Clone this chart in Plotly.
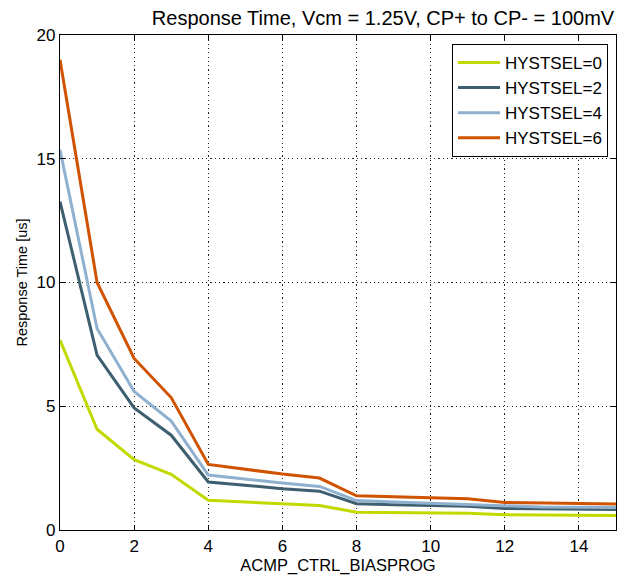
import plotly.graph_objects as go

x_vals = list(range(16))
hyst0 = [7.67, 4.07, 2.84, 2.25, 1.20, 1.13, 1.06, 0.99, 0.72, 0.71, 0.70, 0.68, 0.62, 0.61, 0.60, 0.59]
hyst2 = [13.27, 7.07, 4.93, 3.83, 1.94, 1.80, 1.67, 1.57, 1.06, 1.02, 0.99, 0.96, 0.87, 0.86, 0.84, 0.83]
hyst4 = [15.36, 8.14, 5.60, 4.40, 2.22, 2.05, 1.90, 1.76, 1.19, 1.13, 1.08, 1.03, 0.95, 0.93, 0.92, 0.91]
hyst6 = [19.00, 10.00, 6.93, 5.35, 2.65, 2.45, 2.26, 2.10, 1.38, 1.34, 1.30, 1.26, 1.11, 1.09, 1.07, 1.05]

names = ["HYSTSEL=0", "HYSTSEL=2", "HYSTSEL=4", "HYSTSEL=6"]
colors = ["#c2d900", "#3e5f70", "#8fb1cf", "#d05300"]
series = [hyst0, hyst2, hyst4, hyst6]

fig = go.Figure()
for n, c, s in zip(names, colors, series):
    fig.add_trace(go.Scatter(x=x_vals, y=s, mode="lines", name=n,
                             line=dict(color=c, width=3)))

axis_common = dict(
    showline=True, linecolor="black", linewidth=1.3, mirror="ticks",
    ticks="inside", ticklen=5, tickcolor="black",
    showgrid=True, gridcolor="#222222", griddash="1.2px,3.1px", gridwidth=1.2,
    zeroline=False,
    tickfont=dict(family="Liberation Sans", size=17, color="black"),
)

fig.update_layout(
    width=623, height=576,
    margin=dict(l=60, r=7, t=35, b=46),
    paper_bgcolor="white", plot_bgcolor="white",
    title=dict(text="Response Time, Vcm = 1.25V, CP+ to CP- = 100mV",
               x=383 / 623, xanchor="center", y=1 - 18 / 576, yanchor="middle",
               font=dict(family="Liberation Sans", size=20, color="black")),
    xaxis=dict(range=[0, 15], dtick=2, **axis_common,
               title=dict(text="ACMP_CTRL_BIASPROG", standoff=0,
                          font=dict(family="Liberation Sans", size=16.5, color="black"))),
    yaxis=dict(range=[0, 20], dtick=5, **axis_common,
               title=dict(text="Response Time [us]", standoff=5,
                          font=dict(family="Liberation Sans", size=14.5, color="black"))),
    legend=dict(x=0.9856, y=0.982, xanchor="right", yanchor="top",
                bgcolor="white", bordercolor="black", borderwidth=1,
                font=dict(family="Liberation Sans", size=17, color="black"),
                tracegroupgap=0, itemwidth=42),
    showlegend=True,
)

fig.write_html("out.html", config={"displayModeBar": False},
               post_script="document.body.style.margin='0';")
